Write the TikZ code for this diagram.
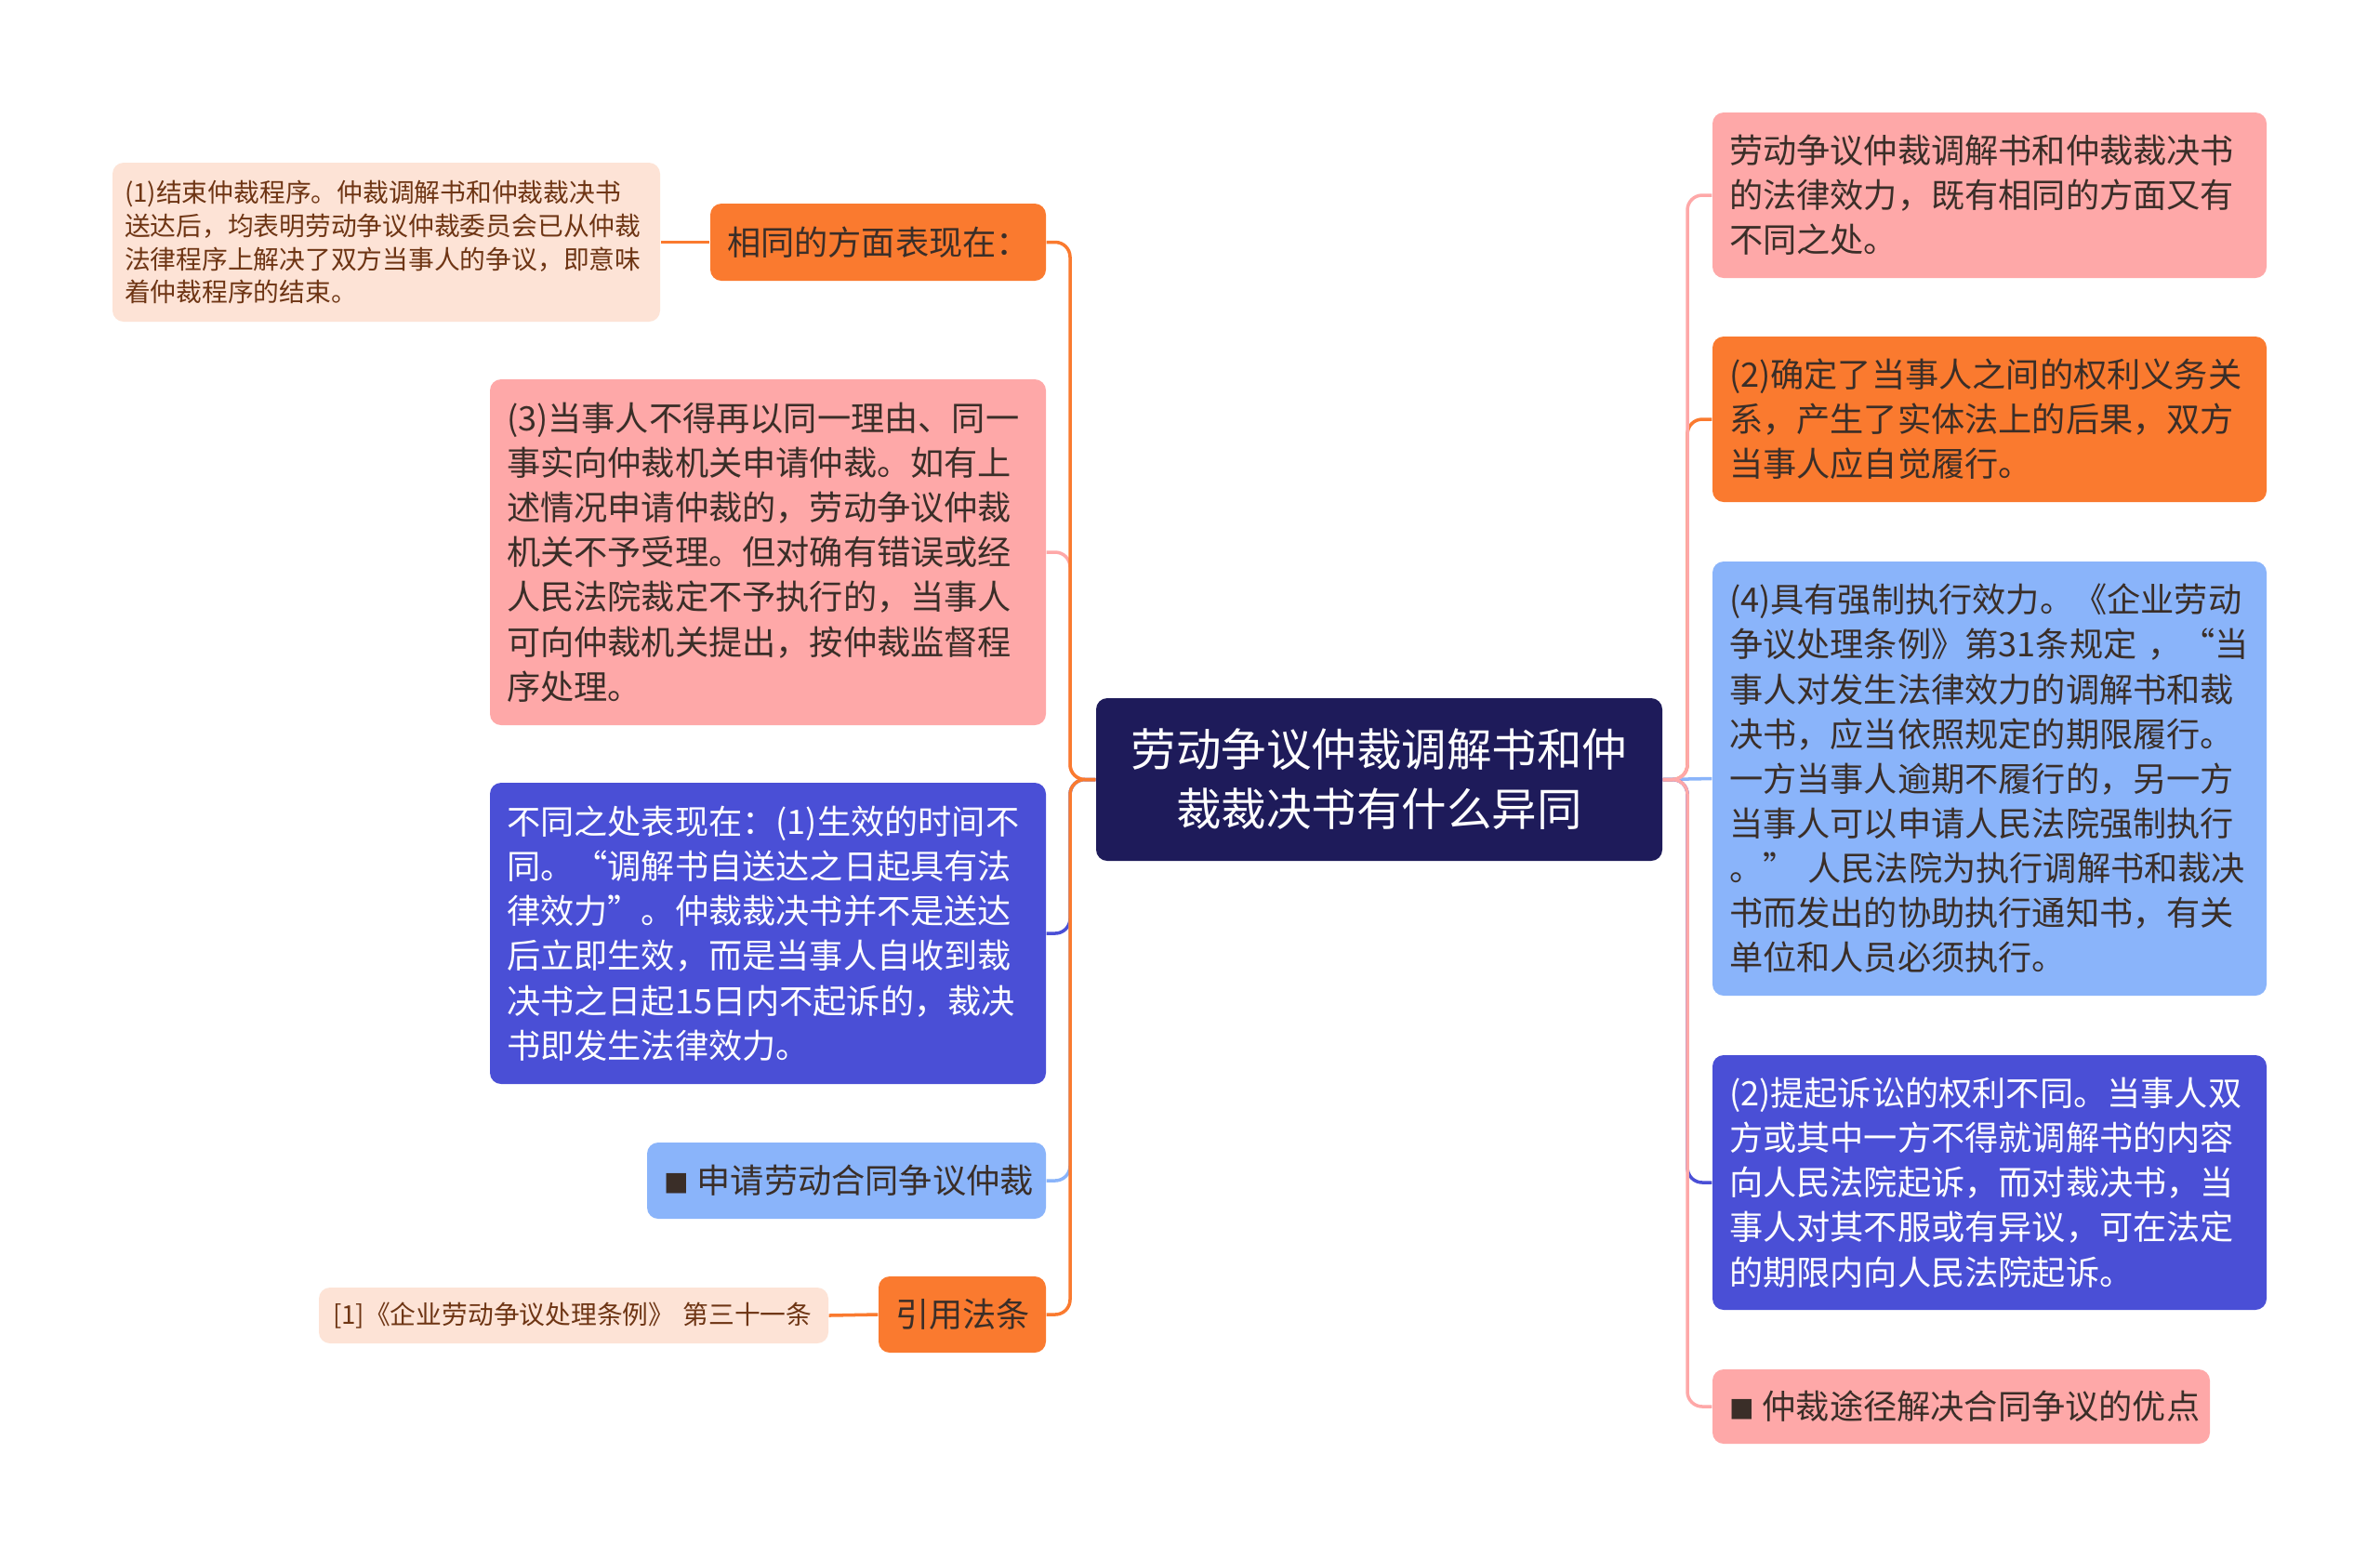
\documentclass[tikz,border=0pt]{standalone}
\usepackage{fontspec}
\newfontfamily\cjk{Noto Sans CJK SC}
\newfontfamily\symf{DejaVu Sans}
\definecolor{cNavy}{HTML}{1E1B5A}
\definecolor{cOrange}{HTML}{FA7A2F}
\definecolor{cPink}{HTML}{FEA8A8}
\definecolor{cViolet}{HTML}{4A4FD6}
\definecolor{cSky}{HTML}{8AB4FA}
\definecolor{cPeach}{HTML}{FDE3D6}
\definecolor{txt}{HTML}{3A2E28}
\definecolor{txtb}{HTML}{6E3514}
\newcommand{\sq}{\raisebox{0.08em}{\symf\fontsize{8}{8}\selectfont ■}\kern0.25em}

\begin{document}
\begin{tikzpicture}[
  box/.style={rectangle, rounded corners=0.12cm, inner xsep=0.18cm, inner ysep=0pt,
    align=left, text=txt, font=\cjk\fontsize{10.3}{13.7}\selectfont},
  small/.style={box, fill=cPeach, text=txtb, inner xsep=0.13cm, font=\cjk\fontsize{7.9}{10.2}\selectfont},
  lnk/.style={line width=1pt, rounded corners=0.16cm}
]
  \fill[white] (0,0) rectangle (25.6,-16.76);
  \useasboundingbox (0,0) rectangle (25.6,-16.76);

  \node[box, fill=cNavy, text=white, align=center, text width=5.73cm, minimum height=1.75cm,
    font=\cjk\fontsize{13.8}{18.2}\selectfont] (root) at (14.835,-8.385)
    {劳动争议仲裁调解书和仲\\裁裁决书有什么异同};
  \coordinate (lhub) at (11.51,-8.385);
  \coordinate (rhub) at (18.15,-8.385);

  % left side
  \node[box, fill=cOrange, text width=3.25cm, minimum height=0.83cm] (same) at (9.445,-2.605) {相同的方面表现在：};
  \node[small, text width=5.63cm, minimum height=1.71cm] (sameA) at (4.155,-2.605)
    {(1)结束仲裁程序。仲裁调解书和仲裁裁决书\\送达后，均表明劳动争议仲裁委员会已从仲裁\\法律程序上解决了双方当事人的争议，即意味\\着仲裁程序的结束。};
  \node[box, fill=cPink, text width=5.62cm, minimum height=3.72cm] (rule3) at (8.26,-5.94)
    {(3)当事人不得再以同一理由、同一\\事实向仲裁机关申请仲裁。如有上\\述情况申请仲裁的，劳动争议仲裁\\机关不予受理。但对确有错误或经\\人民法院裁定不予执行的，当事人\\可向仲裁机关提出，按仲裁监督程\\序处理。};
  \node[box, fill=cViolet, text=white, text width=5.62cm, minimum height=3.24cm] (diff1) at (8.26,-10.04)
    {不同之处表现在：(1)生效的时间不\\同。“调解书自送达之日起具有法\\律效力”。仲裁裁决书并不是送达\\后立即生效，而是当事人自收到裁\\决书之日起15日内不起诉的，裁决\\书即发生法律效力。};
  \node[box, fill=cSky, text width=3.93cm, minimum height=0.82cm] (apply) at (9.105,-12.70) {\sq 申请劳动合同争议仲裁};
  \node[box, fill=cOrange, text width=1.44cm, minimum height=0.82cm] (cite) at (10.35,-14.14) {引用法条};
  \node[small, text width=5.18cm, inner xsep=0.15cm, minimum height=0.60cm] (citeA) at (6.17,-14.15)
    {[1]《企业劳动争议处理条例》 第三十一条};

  % right side
  \node[box, fill=cPink, text width=5.60cm, minimum height=1.78cm] (intro) at (21.40,-2.10)
    {劳动争议仲裁调解书和仲裁裁决书\\的法律效力，既有相同的方面又有\\不同之处。};
  \node[box, fill=cOrange, text width=5.60cm, minimum height=1.78cm] (rule2) at (21.40,-4.51)
    {(2)确定了当事人之间的权利义务关\\系，产生了实体法上的后果，双方\\当事人应自觉履行。};
  \node[box, fill=cSky, text width=5.60cm, minimum height=4.67cm] (rule4) at (21.40,-8.375)
    {(4)具有强制执行效力。《企业劳动\\争议处理条例》第31条规定 ，“当\\事人对发生法律效力的调解书和裁\\决书，应当依照规定的期限履行。\\一方当事人逾期不履行的，另一方\\当事人可以申请人民法院强制执行\\。” 人民法院为执行调解书和裁决\\书而发出的协助执行通知书，有关\\单位和人员必须执行。};
  \node[box, fill=cViolet, text=white, text width=5.60cm, minimum height=2.74cm] (diff2) at (21.40,-12.72)
    {(2)提起诉讼的权利不同。当事人双\\方或其中一方不得就调解书的内容\\向人民法院起诉，而对裁决书，当\\事人对其不服或有异议，可在法定\\的期限内向人民法院起诉。};
  \node[box, fill=cPink, text width=4.99cm, minimum height=0.80cm] (merit) at (21.095,-15.13) {\sq 仲裁途径解决合同争议的优点};

  \begin{scope}[lnk]
    \draw[cPink] (root.west) -- (lhub) |- (rule3.east);
    \draw[cViolet] (root.west) -- (lhub) |- (diff1.east);
    \draw[cSky] (root.west) -- (lhub) |- (apply.east);
    \draw[cOrange] (root.west) -- (lhub) |- (same.east);
    \draw[cOrange] (root.west) -- (lhub) |- (cite.east);
    \draw[cOrange] (same.west) -- (sameA.east);
    \draw[cOrange] (cite.west) -- (citeA.east);
    \draw[cOrange] (root.east) -- (rhub) |- (rule2.west);
    \draw[cSky] (root.east) -- (rule4.west);
    \draw[cViolet] (root.east) -- (rhub) |- (diff2.west);
    \draw[cPink] (root.east) -- (rhub) |- (intro.west);
    \draw[cPink] (root.east) -- (rhub) |- (merit.west);
  \end{scope}
\end{tikzpicture}
\end{document}
